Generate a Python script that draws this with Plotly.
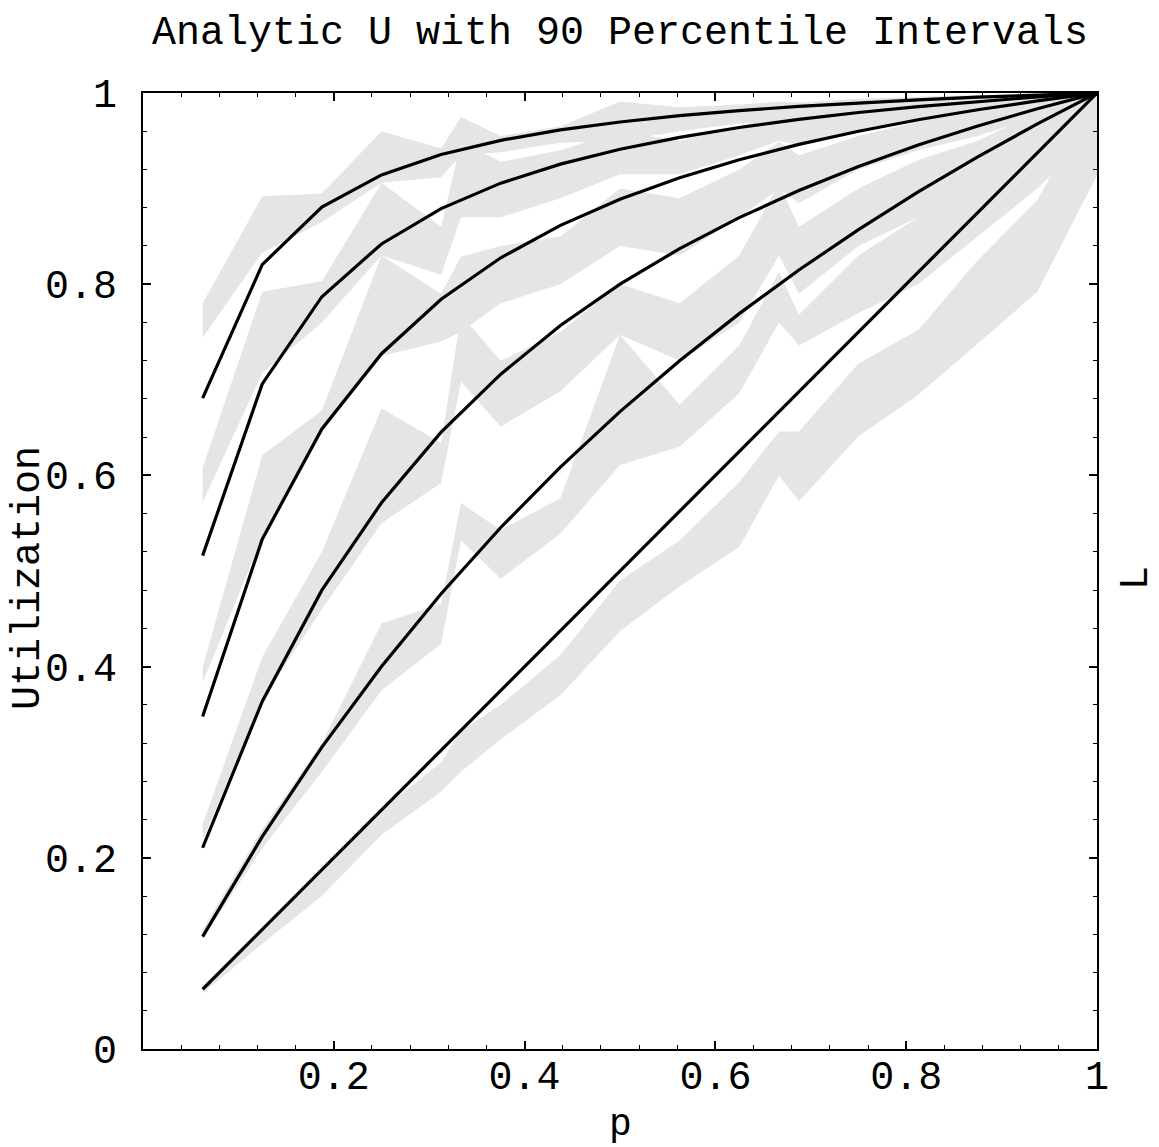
import plotly.graph_objects as go

# ---------------- data ----------------
p_line = [0.0625, 0.125, 0.1875, 0.25, 0.3125, 0.375, 0.4375, 0.5,
          0.5625, 0.625, 0.6875, 0.75, 0.8125, 0.875, 0.9375, 1.0]

U_L1 = [0.0625, 0.125, 0.1875, 0.25, 0.3125, 0.375, 0.4375, 0.5,
        0.5625, 0.625, 0.6875, 0.75, 0.8125, 0.875, 0.9375, 1.0]
U_L2 = [0.1176, 0.2222, 0.3158, 0.4, 0.4762, 0.5455, 0.6087, 0.6667,
        0.72, 0.7692, 0.8148, 0.8571, 0.8966, 0.9333, 0.9677, 1.0]
U_L4 = [0.2105, 0.3636, 0.48, 0.5714, 0.6452, 0.7059, 0.7568, 0.8,
        0.8372, 0.8696, 0.898, 0.9231, 0.9455, 0.9655, 0.9836, 1.0]
U_L8 = [0.3478, 0.5333, 0.6486, 0.7273, 0.7843, 0.8276, 0.8615, 0.8889,
        0.9114, 0.9302, 0.9462, 0.96, 0.972, 0.9825, 0.9917, 1.0]
U_L16 = [0.5161, 0.6957, 0.7869, 0.8421, 0.8791, 0.9057, 0.9256, 0.9412,
         0.9536, 0.9639, 0.9724, 0.9796, 0.9858, 0.9912, 0.9959, 1.0]
U_L32 = [0.6809, 0.8205, 0.8807, 0.9143, 0.9357, 0.9505, 0.9614, 0.9697,
         0.9763, 0.9816, 0.986, 0.9897, 0.9928, 0.9956, 0.9979, 1.0]

p_sim = [0.0625, 0.125, 0.1875, 0.25, 0.3125, 0.3333, 0.375, 0.4375, 0.5,
         0.5625, 0.625, 0.6667, 0.6875, 0.75, 0.8125, 0.875, 0.9375, 1.0]

hi_L32 = [0.780, 0.892, 0.895, 0.960, 0.942, 0.975, 0.955, 0.965, 0.991,
          0.985, 0.988, 0.991, 0.990, 0.994, 0.996, 0.998, 0.999, 1.0]
lo_L32 = [0.744, 0.833, 0.865, 0.906, 0.912, 0.935, 0.938, 0.948, 0.950,
          0.960, 0.968, 0.972, 0.975, 0.980, 0.985, 0.990, 0.994, 1.0]
hi_L16 = [0.608, 0.792, 0.803, 0.906, 0.860, 0.949, 0.928, 0.940, 0.960,
          0.950, 0.965, 0.980, 0.975, 0.985, 0.990, 0.994, 0.998, 1.0]
lo_L16 = [0.572, 0.707, 0.760, 0.830, 0.810, 0.870, 0.870, 0.890, 0.915,
          0.915, 0.935, 0.950, 0.945, 0.960, 0.970, 0.980, 0.990, 1.0]
hi_L8 = [0.399, 0.621, 0.668, 0.830, 0.790, 0.829, 0.840, 0.850, 0.900,
         0.890, 0.920, 0.949, 0.935, 0.955, 0.970, 0.980, 0.990, 1.0]
lo_L8 = [0.383, 0.535, 0.645, 0.725, 0.740, 0.750, 0.780, 0.800, 0.840,
         0.830, 0.870, 0.900, 0.885, 0.920, 0.940, 0.955, 0.975, 1.0]
hi_L4 = [0.235, 0.410, 0.520, 0.670, 0.634, 0.768, 0.720, 0.750, 0.800,
         0.780, 0.830, 0.905, 0.860, 0.900, 0.930, 0.950, 0.980, 1.0]
lo_L4 = [0.218, 0.365, 0.460, 0.550, 0.592, 0.698, 0.651, 0.688, 0.747,
         0.720, 0.760, 0.830, 0.790, 0.840, 0.870, 0.910, 0.950, 1.0]
hi_L2 = [0.125, 0.230, 0.320, 0.445, 0.466, 0.571, 0.543, 0.576, 0.747,
         0.674, 0.736, 0.813, 0.768, 0.830, 0.870, 0.910, 0.950, 1.0]
lo_L2 = [0.115, 0.210, 0.290, 0.375, 0.424, 0.532, 0.492, 0.539, 0.611,
         0.630, 0.686, 0.760, 0.736, 0.770, 0.800, 0.850, 0.900, 0.960]
hi_L1 = [0.065, 0.125, 0.185, 0.250, 0.300, 0.333, 0.360, 0.412, 0.490,
         0.532, 0.593, 0.646, 0.646, 0.717, 0.752, 0.825, 0.888, 1.0]
lo_L1 = [0.058, 0.110, 0.160, 0.224, 0.269, 0.290, 0.324, 0.370, 0.437,
         0.484, 0.525, 0.600, 0.573, 0.641, 0.684, 0.738, 0.792, 0.914]

x_tick_vals = [0.2, 0.4, 0.6, 0.8, 1.0]
x_tick_text = ["0.2", "0.4", "0.6", "0.8", "1"]
y_tick_vals = [0, 0.2, 0.4, 0.6, 0.8, 1.0]
y_tick_text = ["0", "0.2", "0.4", "0.6", "0.8", "1"]

title_text = "Analytic U with 90 Percentile Intervals"
x_label = "p"
y_label = "Utilization"
right_label = "L"

# ---------------- figure ----------------
BAND = "#e5e5e5"
FONT = "Liberation Mono"
FS = 40

fig = go.Figure()

bands = [(hi_L32, lo_L32), (hi_L16, lo_L16), (hi_L8, lo_L8),
         (hi_L4, lo_L4), (hi_L2, lo_L2), (hi_L1, lo_L1)]
for hi, lo in bands:
    fig.add_trace(go.Scatter(
        x=p_sim + p_sim[::-1],
        y=hi + lo[::-1],
        fill="toself", fillcolor=BAND, mode="lines",
        line=dict(width=0, color=BAND),
        hoverinfo="skip", showlegend=False))

for u in [U_L1, U_L2, U_L4, U_L8, U_L16, U_L32]:
    fig.add_trace(go.Scatter(
        x=p_line, y=u, mode="lines",
        line=dict(color="black", width=3.2),
        showlegend=False))

axis_common = dict(
    showline=True, linecolor="black", linewidth=2, mirror="allticks",
    ticks="inside", ticklen=8, tickwidth=1.5, tickcolor="black",
    showgrid=False, zeroline=False,
    tickfont=dict(family=FONT, size=FS, color="black"),
    minor=dict(ticks="inside", ticklen=4, tickwidth=1, tickcolor="black",
               dtick=0.04, tick0=0, showgrid=False),
)

fig.update_layout(
    width=1159, height=1147,
    margin=dict(l=143, r=62, t=93, b=98),
    paper_bgcolor="white", plot_bgcolor="white",
    showlegend=False,
    title=dict(text=title_text, x=0.5, xref="paper", y=1 - 30 / 1147,
               yref="container", xanchor="center", yanchor="middle",
               font=dict(family=FONT, size=FS, color="black")),
    xaxis=dict(range=[0, 1], tickvals=x_tick_vals, ticktext=x_tick_text,
               ticklabelstandoff=-10, **axis_common),
    yaxis=dict(range=[0, 1], tickvals=y_tick_vals, ticktext=y_tick_text,
               ticklabelstandoff=16, **axis_common),
    annotations=[
        dict(text=y_label, xref="paper", yref="paper",
             x=(28 - 143) / 954, y=(1049 - 578) / 956,
             xanchor="center", yanchor="middle", textangle=-90,
             showarrow=False, font=dict(family=FONT, size=FS, color="black")),
        dict(text=x_label, xref="paper", yref="paper",
             x=0.5, y=(1049 - 1124) / 956,
             xanchor="center", yanchor="middle",
             showarrow=False, font=dict(family=FONT, size=38, color="black")),
        dict(text=right_label, xref="paper", yref="paper",
             x=(1136 - 143) / 954, y=(1049 - 578) / 956,
             xanchor="center", yanchor="middle", textangle=-90,
             showarrow=False, font=dict(family=FONT, size=FS, color="black")),
    ],
)

fig.write_html("out.html")
